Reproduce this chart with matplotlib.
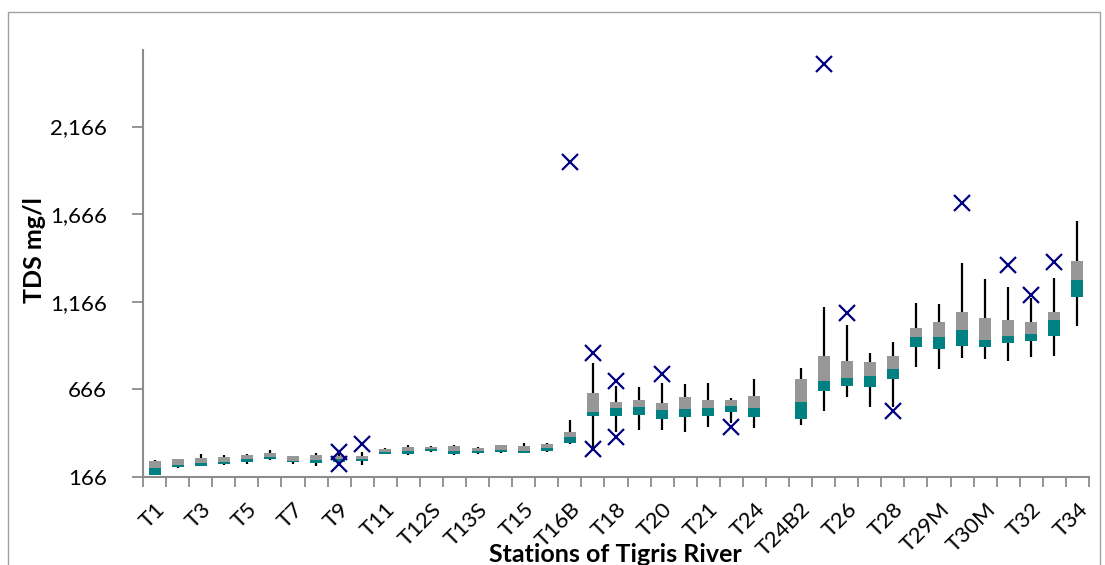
import numpy as np
import matplotlib
matplotlib.use("Agg")
import matplotlib.pyplot as plt
from matplotlib.patches import Rectangle

plt.rcParams['font.family'] = ['Lato', 'DejaVu Sans']

# stations along the river (every other one is labelled on the axis)
stations = ["T1", "T2", "T3", "T4", "T5", "T6", "T7", "T8", "T9", "T10",
            "T11", "T12", "T12S", "T13", "T13S", "T14", "T15", "T16", "T16B", "T17",
            "T18", "T19", "T20", "T20B", "T21", "T23", "T24", "T24B", "T24B2", "T25",
            "T26", "T27", "T28", "T29", "T29M", "T30", "T30M", "T31", "T32", "T33", "T34"]

nan = np.nan
whisker_low = [177, 219, 227, 234, 240, 263, 238, 231, 245, 234,
               296, 293, 307, 293, 296, 305, 301, 310, 352, 339,
               425, 434, 434, 425, 453, 476, 444, nan, 463, 544,
               621, 567, 565, 796, 781, 844, 840, 830, 853, 858, 1030]
q1 = [179, 223, 230, 242, 253, 267, 250, 246, 253, 255,
      299, 299, 313, 297, 303, 310, 305, 316, 358, 516,
      514, 520, 497, 510, 516, 539, 510, nan, 499, 659,
      685, 678, 725, 906, 897, 915, 906, 929, 944, 971, 1192]
median = [216, 234, 244, 253, 267, 278, 259, 263, 267, 266,
          310, 314, 324, 314, 313, 320, 316, 333, 393, 539,
          558, 567, 548, 556, 558, 571, 562, nan, 594, 716,
          733, 744, 782, 963, 967, 1005, 948, 973, 981, 1062, 1290]
q3 = [259, 267, 273, 278, 292, 305, 284, 293, 288, 288,
      326, 339, 339, 343, 333, 347, 343, 356, 421, 644,
      596, 606, 590, 621, 606, 606, 628, nan, 724, 857,
      830, 824, 857, 1015, 1052, 1110, 1072, 1062, 1049, 1108, 1401]
whisker_high = [263, 270, 296, 290, 296, 320, 284, 305, 301, 307,
                330, 349, 343, 346, 340, 349, 362, 362, 491, 815,
                685, 681, 701, 695, 704, 619, 725, nan, 786, 1138,
                1034, 872, 935, 1161, 1152, 1389, 1296, 1249, 1186, 1300, 1627]

outlier_station = ["T9", "T9", "T10", "T16B", "T17", "T17", "T18", "T18", "T20",
                   "T23", "T25", "T26", "T28", "T30", "T31", "T32", "T33"]
outlier_value = [310, 240, 354, 1965, 876, 328, 716, 396, 752,
                 450, 2523, 1100, 544, 1728, 1376, 1205, 1395]

y_ticks = [166, 666, 1166, 1666, 2166]

teal = "#008080"
grey = "#979797"

fig = plt.figure(figsize=(11.05, 5.65), dpi=100)
ax = fig.add_axes([143 / 1105, 88 / 565, 946 / 1105, 427 / 565])

x = np.arange(len(stations))
lo = np.array(whisker_low, dtype=float)
a = np.array(q1, dtype=float)
m = np.array(median, dtype=float)
b = np.array(q3, dtype=float)
hi = np.array(whisker_high, dtype=float)

ax.vlines(x, lo, a, color="black", lw=1.6, zorder=2)
ax.vlines(x, b, hi, color="black", lw=1.6, zorder=2)
ax.bar(x, m - a, bottom=a, width=0.52, color=teal, zorder=3)
ax.bar(x, b - m, bottom=m, width=0.52, color=grey, zorder=3)

ox = [stations.index(s) for s in outlier_station]
ax.plot(ox, outlier_value, linestyle="none", marker="x", color="#000080",
        markersize=11, markeredgewidth=1.6, zorder=4)

ax.set_xlim(-0.5, len(stations) - 0.5)
ax.set_ylim(166, 2603)

ax.set_xticks(x)
ax.set_xticklabels([s if i % 2 == 0 else "" for i, s in enumerate(stations)],
                   rotation=45, ha="right", rotation_mode="anchor", fontsize=16)
ax.tick_params(axis="x", which="major", length=0, pad=16)
ax.set_xticks(np.arange(len(stations) + 1) - 0.5, minor=True)
ax.tick_params(axis="x", which="minor", length=7, width=1.3, color="#8c8c8c", direction="out")

ax.set_yticks(y_ticks)
ax.set_yticklabels([f"{v:,}" for v in y_ticks], fontsize=16)
ax.tick_params(axis="y", length=8, width=1.3, color="#8c8c8c", pad=18)

for side in ("top", "right"):
    ax.spines[side].set_visible(False)
for side in ("left", "bottom"):
    ax.spines[side].set_color("#8c8c8c")
    ax.spines[side].set_linewidth(1.5)

fig.text(35 / 1105, 1 - 250 / 565, "TDS mg/l", rotation=90, fontsize=18,
         fontweight="bold", ha="center", va="center")
fig.text(615 / 1105, 1 - 554 / 565, "Stations of Tigris River", fontsize=18,
         fontweight="bold", ha="center", va="center")

fig.patches.append(Rectangle((8 / 1105, -0.05), 1092 / 1105, 1.05 - 12 / 565,
                             transform=fig.transFigure, fill=False,
                             edgecolor="#a0a0a0", lw=1.0))

fig.savefig("out.png", dpi=100)
